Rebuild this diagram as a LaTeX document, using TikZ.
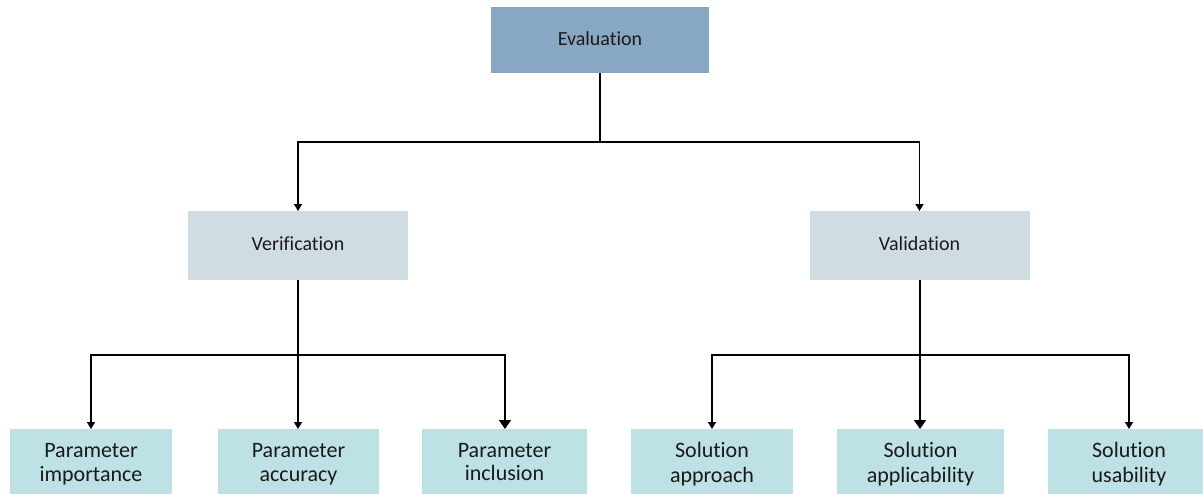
\documentclass[tikz,border=0pt]{standalone}
\usepackage{fontspec}
\setmainfont[Ligatures=NoCommon]{Carlito}
\usetikzlibrary{arrows.meta}
\definecolor{topfill}{HTML}{88A7C2}
\definecolor{midfill}{HTML}{CFDDE2}
\definecolor{leaffill}{HTML}{BDE1E4}
\definecolor{ink}{HTML}{1A1A1A}
\newcommand{\lifted}[2]{\raisebox{#1}{#2}}
\begin{document}
\begin{tikzpicture}[x=1pt,y=-1pt,
  box/.style={inner sep=0pt,outer sep=0pt,align=center,text=ink},
  topbox/.style={box,fill=topfill,minimum width=218pt,minimum height=66pt,font=\fontsize{20}{24}\selectfont},
  midbox/.style={box,fill=midfill,minimum width=220pt,minimum height=69pt,font=\fontsize{20}{24}\selectfont},
  leafbox/.style={box,fill=leaffill,minimum height=70pt,font=\fontsize{22}{24.5}\selectfont},
  conn/.style={draw=black,line width=1.5pt},
  trunk/.style={draw=black,line width=2.8pt},
  tip/.style={-{Triangle[width=8pt,length=7pt]}},
  bigtip/.style={-{Triangle[width=12pt,length=9pt]}}]
\useasboundingbox (0,0) rectangle (1203,493);

% levels of the hierarchy
\node[topbox] (eval) at (600,40) {\lifted{2pt}{Evaluation}};
\node[midbox] (verif) at (298,245.5) {\lifted{4pt}{Verification}};
\node[midbox] (valid) at (919.5,245.5) {\lifted{4pt}{Validation}};

\node[leafbox,minimum width=162pt] (imp) at (91,464) {Parameter\\importance};
\node[leafbox,minimum width=161pt] (acc) at (298.5,464) {Parameter\\accuracy};
\node[leafbox,minimum width=165pt] (inc) at (504.5,464) {\lifted{3pt}{\begin{tabular}{@{}c@{}}Parameter\\[-1pt]inclusion\end{tabular}}};
\node[leafbox,minimum width=162pt] (app) at (712,464) {Solution\\approach};
\node[leafbox,minimum width=167pt] (apl) at (920.5,464) {Solution\\applicability};
\node[leafbox,minimum width=162pt] (usa) at (1129,464) {Solution\\usability};

% branch points of the buses
\coordinate (b0) at (600,142);
\coordinate (b1) at (298,355);
\coordinate (b2) at (920,355);

% top level
\draw[conn,line width=2pt] (eval.south) -- (b0);
\draw[conn,tip] (b0) -| (verif.north);
\draw[conn,tip] (b0) -| (valid.north);

% verification branch
\draw[trunk] (verif.south -| b1) -- (b1);
\draw[conn,tip] (b1) -| (imp.north -| 91,0);
\draw[conn,tip] (b1) -- (acc.north -| b1);
\draw[conn,bigtip] (b1) -| (inc.north -| 505,0);

% validation branch
\draw[trunk] (valid.south -| b2) -- (b2);
\draw[conn,tip] (b2) -| (app.north);
\draw[conn,bigtip] (b2) -- (apl.north -| b2);
\draw[conn,tip] (b2) -| (usa.north);
\end{tikzpicture}
\end{document}
